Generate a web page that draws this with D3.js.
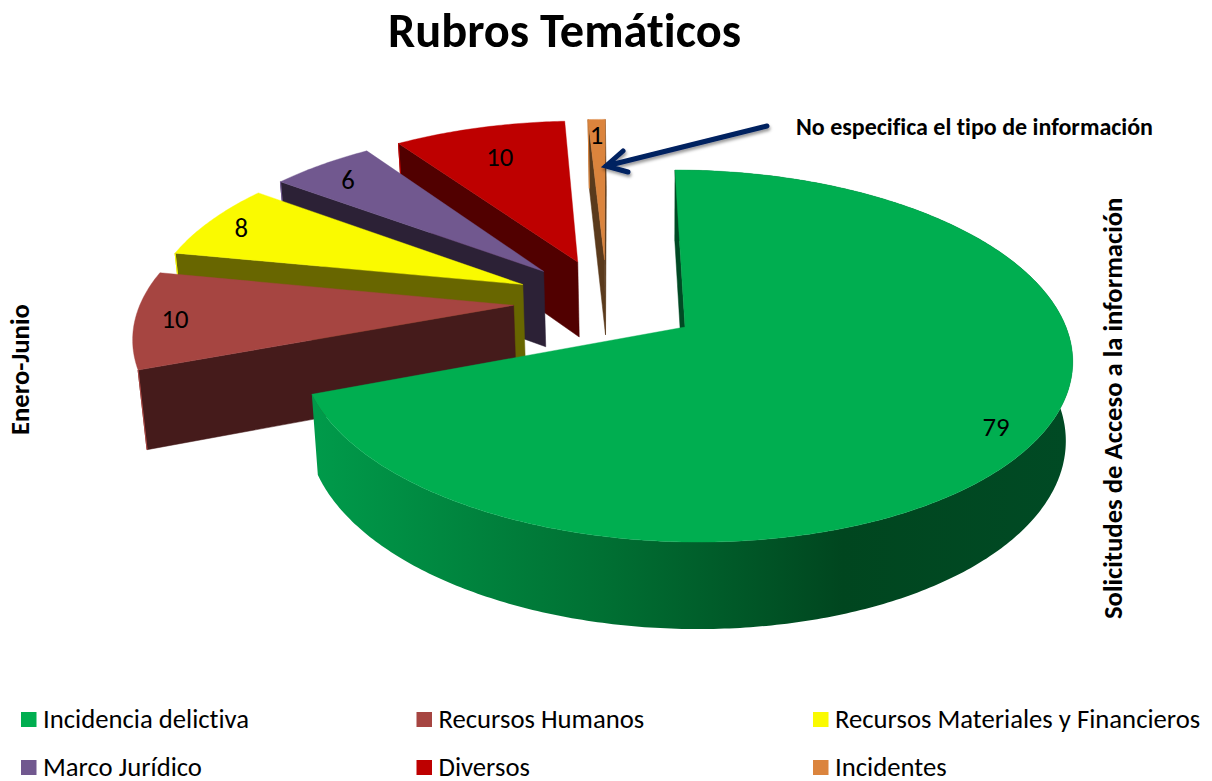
<!DOCTYPE html>
<html><head><meta charset="utf-8">
<script src="https://cdn.jsdelivr.net/npm/d3@7"></script>
<style>html,body{margin:0;padding:0;background:#fff;overflow:hidden}svg{display:block}text{font-family:Carlito,Lato,"Open Sans",sans-serif;fill:#000;font-variant-ligatures:none}</style>
</head><body><svg id="c" width="1212" height="781"></svg>
<script>
const categories=["Incidencia delictiva","Recursos Humanos","Recursos Materiales y Financieros","Marco Jurídico","Diversos","Incidentes"];
const values=[79,10,8,6,10,1];
const topColors=["#00AE50","#A64541","#FAFA00","#71588F","#BE0000","#DB843D"];
const sideColors=["#004A24","#451B1B","#686600","#2C2136","#510000","#5A3A1C"];
const labelRadius=[.89,.89,.89,.85,.76,.88];
const labelNudge=[2,-2,-2,-4,-1,-1];
const legendColumns=[21,416.5,813];
const legendRows=[712,760];
const title="Rubros Temáticos";
const note="No especifica el tipo de información";
const axisRight="Solicitudes de Acceso a la información";
const axisLeft="Enero-Junio";

const svg=d3.select("#c");
const defs=svg.append("defs");
const f=defs.append("filter").attr("id","sh").attr("x","-20%").attr("y","-40%").attr("width","140%").attr("height","200%");
f.append("feDropShadow").attr("dx",1).attr("dy",2.5).attr("stdDeviation",1.6).attr("flood-color","#000").attr("flood-opacity",.4);

// projection of the tilted disc: a homography for the top, and a fixed shift for the base
const K=.156;
const proj=(x,y)=>{const w=1+K*y;return [(685+381*x+95.3*y)/w,(327-130.5*y)/w];};
const base=([X,Y])=>[665+.983*(X-665),1.043*Y+63.7];
const EXPLODE=.25;
const pie=d3.pie().sort(null).startAngle(0).endAngle(2*Math.PI);
const arcs=pie(values);
const mid=d=>(d.startAngle+d.endAngle)/2;
const dir=a=>[Math.sin(a),Math.cos(a)];
const g0=dir(mid(arcs[0]));
const apex=d=>{const m=dir(mid(d));return [EXPLODE*(m[0]-g0[0]),EXPLODE*(m[1]-g0[1])];};

// horizontal shading of the green slice's rim
const grad=defs.append("linearGradient").attr("id","rim0").attr("gradientUnits","userSpaceOnUse").attr("x1",318).attr("x2",1067).attr("y1",0).attr("y2",0);
[[0,"#009A4A"],[.38,"#007033"],[.7,"#00461F"],[1,"#004A24"]].forEach(s=>grad.append("stop").attr("offset",s[0]).attr("stop-color",s[1]));

const poly=pts=>{const p=d3.path();pts.forEach((q,i)=>i?p.lineTo(q[0],q[1]):p.moveTo(q[0],q[1]));p.closePath();return p.toString();};
const layer=svg.append("g");
arcs.map((d,i)=>({d,i})).reverse().forEach(({d,i})=>{
  const c=apex(d);
  const n=Math.max(4,Math.ceil((d.endAngle-d.startAngle)/.012));
  const rim=d3.range(n+1).map(k=>{const a=d.startAngle+(d.endAngle-d.startAngle)*k/n,v=dir(a);return proj(c[0]+v[0],c[1]+v[1]);});
  const A=proj(c[0],c[1]);
  const g=layer.append("g");
  if(i===0) g.append("path").attr("d",poly([...rim,...rim.slice().reverse().map(base)])).attr("fill","url(#rim0)");
  [[rim[0],A],[A,rim[n]]].forEach(([p,q],side)=>{
    const quad=[p,q,base(q),base(p)];
    if(d3.polygonArea(quad)<0){
      g.append("path").attr("d",poly(quad)).attr("fill",sideColors[i]).attr("stroke",sideColors[i]).attr("stroke-width",.5);
      if(i>0&&side===0) g.append("path").attr("d",poly([p,base(p)])).attr("fill","none").attr("stroke",topColors[i]).attr("stroke-width",1).attr("stroke-opacity",.8);
    }
  });
  g.append("path").attr("d",poly([A,...rim])).attr("fill",topColors[i]).attr("stroke",topColors[i]).attr("stroke-width",.4);
});

// data labels
arcs.forEach(d=>{
  const c=apex(d),v=dir(mid(d)),r=labelRadius[d.index];
  const P=proj(c[0]+r*v[0],c[1]+r*v[1]);
  svg.append("text").attr("x",P[0]+labelNudge[d.index]).attr("y",P[1]).attr("dy","0.35em").attr("text-anchor","middle").attr("font-size",26.7).text(values[d.index]);
});

// arrow annotation
const arrow=d3.path();
arrow.moveTo(767,126);arrow.lineTo(606,166);
arrow.moveTo(623,151);arrow.lineTo(606,166);arrow.lineTo(628,172);
svg.append("path").attr("d",arrow.toString()).attr("fill","none").attr("stroke","#002060").attr("stroke-width",5).attr("stroke-linecap","round").attr("stroke-linejoin","miter").attr("filter","url(#sh)");

svg.append("text").attr("x",564.5).attr("y",47).attr("text-anchor","middle").attr("font-size",48.4).attr("font-weight",700).text(title);
svg.append("text").attr("x",796).attr("y",135).attr("font-size",24).attr("font-weight",700).text(note);
svg.append("text").attr("transform","translate(1122,619) rotate(-90)").attr("font-size",26.7).attr("font-weight",700).text(axisRight);
svg.append("text").attr("transform","translate(29,435) rotate(-90)").attr("font-size",26.7).attr("font-weight",700).text(axisLeft);

categories.forEach((name,i)=>{
  const x=legendColumns[i%3],y=legendRows[Math.floor(i/3)];
  svg.append("rect").attr("x",x).attr("y",y).attr("width",15.5).attr("height",15).attr("fill",topColors[i]);
  svg.append("text").attr("x",x+22).attr("y",y+16).attr("font-size",26.7).text(name);
});
</script></body></html>
